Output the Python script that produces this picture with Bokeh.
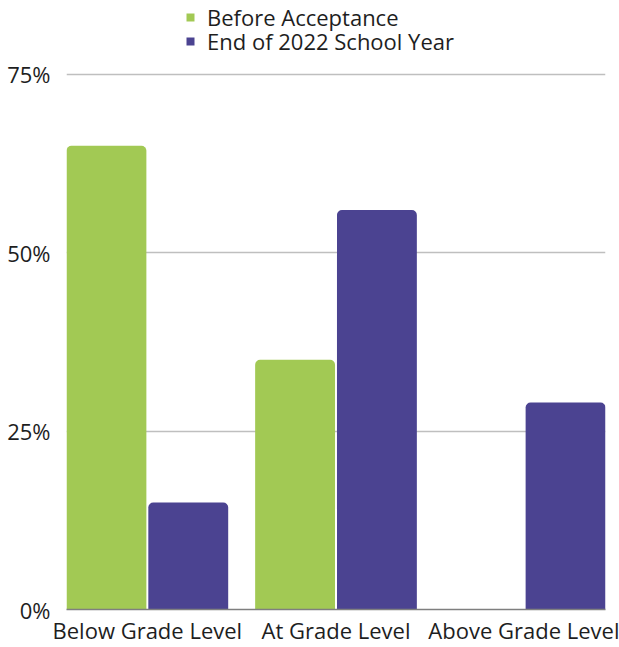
from bokeh.plotting import figure
from bokeh.models import ColumnDataSource, FactorRange, Range1d, FixedTicker, Legend, LegendItem
from bokeh.transform import dodge
from bokeh.embed import file_html
from bokeh.resources import INLINE

categories = ["Below Grade Level", "At Grade Level", "Above Grade Level"]
before_acceptance = [65, 35, 0]
end_2022 = [15, 56, 29]
series_names = ["Before Acceptance", "End of 2022 School Year"]
y_ticks = [0, 25, 50, 75]
y_tick_labels = ["0%", "25%", "50%", "75%"]

GREEN = "#A2C954"
PURPLE = "#4B4391"
FONT = "Open Sans"
TEXT = "#1e1e1e"

src = ColumnDataSource(dict(cat=categories, before=before_acceptance, end=end_2022))

# frame spans the full height above the x axis so the legend sits inside it;
# 75% is placed at the same height as in the reference.
p = figure(width=619, height=647,
           x_range=FactorRange(*categories, range_padding=0, factor_padding=0.1667),
           y_range=Range1d(0, 85.37),
           output_backend="svg", toolbar_location=None,
           min_border_left=66, min_border_right=14, min_border_top=0, min_border_bottom=38)

r1 = p.vbar(x=dodge("cat", -0.253, range=p.x_range), top="before", width=0.494, source=src,
            fill_color=GREEN, line_color=None, border_radius=(5, 5, 0, 0))
r2 = p.vbar(x=dodge("cat", 0.253, range=p.x_range), top="end", width=0.494, source=src,
            fill_color=PURPLE, line_color=None, border_radius=(5, 5, 0, 0))

p.outline_line_color = None
p.background_fill_color = "white"
p.xgrid.grid_line_color = None
p.ygrid.ticker = FixedTicker(ticks=y_ticks)
p.ygrid.grid_line_color = "#BFBFBF"
p.ygrid.grid_line_width = 1.5

p.yaxis.ticker = FixedTicker(ticks=y_ticks)
p.yaxis.major_label_overrides = {t: l for t, l in zip(y_ticks, y_tick_labels)}
p.yaxis.axis_line_color = None
p.yaxis.major_tick_line_color = None
p.yaxis.minor_tick_line_color = None
p.yaxis.major_tick_out = 0
p.yaxis.major_label_standoff = 16
p.yaxis.major_label_text_font = FONT
p.yaxis.major_label_text_font_size = "22px"
p.yaxis.major_label_text_color = TEXT

p.xaxis.axis_line_color = "#7F7F7F"
p.xaxis.axis_line_width = 1.5
p.xaxis.major_tick_line_color = None
p.xaxis.major_tick_out = 0
p.xaxis.major_label_standoff = 5
p.xaxis.major_label_text_font = FONT
p.xaxis.major_label_text_font_size = "22px"
p.xaxis.major_label_text_color = TEXT

legend_style = dict(orientation="vertical", glyph_width=10, glyph_height=10, label_height=24,
                    spacing=0, padding=0, margin=0, label_standoff=12,
                    label_text_font=FONT, label_text_font_size="22px", label_text_color=TEXT,
                    border_line_color=None, background_fill_alpha=0)
legend1 = Legend(items=[LegendItem(label=series_names[0], renderers=[r1])],
                 location=(119, 577), **legend_style)
legend2 = Legend(items=[LegendItem(label=series_names[1], renderers=[r2])],
                 location=(119, 553), **legend_style)
p.add_layout(legend1, "center")
p.add_layout(legend2, "center")

open("out.html", "w").write(file_html(p, INLINE))
